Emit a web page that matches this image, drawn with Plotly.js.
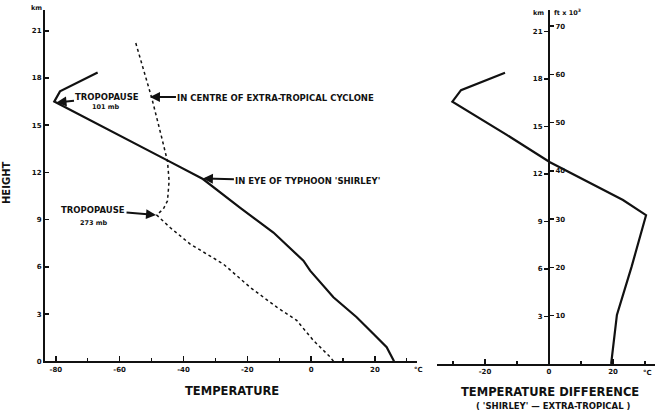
<!DOCTYPE html>
<html>
<head>
<meta charset="utf-8">
<script src="https://cdn.plot.ly/plotly-3.0.1.min.js"></script>
<style>html,body{margin:0;padding:0;background:#fff;}#chart{width:655px;height:414px;}</style>
</head>
<body>
<div id="chart"></div>
<script>
// ---- data ----
// Temperature (deg C) vs height (km), in the eye of Typhoon 'Shirley'
const shirleyTemp   = [26.0, 23.7, 19.5, 14.3, 7.0, -0.3, -2.4, -11.8, -22.3, -33.9, -45.2, -54.6, -80.5, -78.7, -66.9];
const shirleyHeight = [0.0, 0.9, 1.75, 2.8, 4.07, 5.76, 6.39, 8.18, 9.77, 11.58, 12.78, 13.78, 16.5, 17.15, 18.35];
// In centre of extra-tropical cyclone
const extraTemp   = [7.0, 6.0, 0.7, -4.5, -10.75, -19.1, -27.5, -37.9, -44.2, -48.4, -46.3, -45.0, -44.5, -45.0, -46.8, -49.9, -55.2];
const extraHeight = [0.0, 0.27, 1.33, 2.6, 3.44, 4.7, 6.18, 7.45, 8.5, 9.3, 9.68, 10.2, 11.46, 12.7, 14.2, 16.7, 20.4];
// Temperature difference ('Shirley' - extra-tropical)
const diffTemp   = [19.4, 21.2, 25.8, 30.3, 23.1, 0.3, -13.2, -30.2, -27.5, -13.75];
const diffHeight = [0.0, 3.1, 6.15, 9.4, 10.36, 12.74, 14.47, 16.57, 17.3, 18.4];

// tick labels
const tempTickVals  = [-80, -60, -40, -20, 0, 20];
const tempTickText  = ['-80', '-60', '-40', '-20', '0', '20'];
const diffTickVals  = [-20, 0, 20];
const diffTickText  = ['-20', '0', '20'];
const kmTickVals    = [0, 3, 6, 9, 12, 15, 18, 21];
const kmTickText    = ['0', '3', '6', '9', '12', '15', '18', '21'];
const kmTickValsR   = [3, 6, 9, 12, 15, 18, 21];
const kmTickTextR   = ['3', '6', '9', '12', '15', '18', '21'];
const ftTickVals    = [10, 20, 30, 40, 50, 60, 70];
const ftTickText    = ['10', '20', '30', '40', '50', '60', '70'];

// ---- layout helpers ----
const W = 655, H = 414;
const px = x => x / W;
const py = y => 1 - y / H;
const FONT = 'DejaVu Sans, Liberation Sans, sans-serif';
const ink = '#111';

const traces = [
  {x: shirleyTemp, y: shirleyHeight, xaxis: 'x', yaxis: 'y', mode: 'lines',
   line: {color: ink, width: 2.2}, hoverinfo: 'skip'},
  {x: extraTemp, y: extraHeight, xaxis: 'x', yaxis: 'y', mode: 'lines',
   line: {color: ink, width: 1.5, dash: '3px,3px'}, hoverinfo: 'skip'},
  {x: diffTemp, y: diffHeight, xaxis: 'x2', yaxis: 'y2', mode: 'lines',
   line: {color: ink, width: 2.2}, hoverinfo: 'skip'},
  {x: [0], y: [0], xaxis: 'x2', yaxis: 'y3', mode: 'markers',
   marker: {opacity: 0}, hoverinfo: 'skip'}
];

const tickFont = {family: FONT, size: 7, color: ink, weight: 'bold'};
const axBase = {showgrid: false, zeroline: false, showline: true, linecolor: ink, linewidth: 2,
  tickcolor: ink, tickwidth: 1.5, fixedrange: true, tickfont: tickFont, tickmode: 'array'};

const layout = {
  width: W, height: H, margin: {l: 0, r: 0, t: 0, b: 0},
  paper_bgcolor: '#fff', plot_bgcolor: 'rgba(0,0,0,0)', showlegend: false,
  xaxis: Object.assign({}, axBase, {domain: [px(45), px(417)], range: [-83.4, 33.2], anchor: 'y',
    tickvals: tempTickVals, ticktext: tempTickText, ticks: 'inside', ticklen: 5,
    minor: {dtick: 10, tick0: 0, ticks: 'inside', ticklen: 3, tickcolor: ink, tickwidth: 1.2}}),
  yaxis: Object.assign({}, axBase, {domain: [py(361.3), py(10)], range: [0, 22.32], anchor: 'x',
    tickvals: kmTickVals, ticktext: kmTickText, ticks: 'inside', ticklen: 4}),
  xaxis2: Object.assign({}, axBase, {domain: [px(437), 1], range: [-35, 33.1], anchor: 'y2',
    tickvals: diffTickVals, ticktext: diffTickText, ticks: 'inside', ticklen: 5,
    minor: {dtick: 10, tick0: 0, ticks: 'inside', ticklen: 3, tickcolor: ink, tickwidth: 1.2}}),
  yaxis2: Object.assign({}, axBase, {domain: [py(364), py(10)], range: [0, 22.36], anchor: 'free',
    position: px(549), side: 'left', tickvals: kmTickValsR, ticktext: kmTickTextR,
    ticks: 'outside', ticklen: 4}),
  yaxis3: Object.assign({}, axBase, {domain: [py(364), py(10)], range: [0, 22.36 / 0.3048], anchor: 'free',
    overlaying: 'y2', position: px(549), side: 'right', tickvals: ftTickVals, ticktext: ftTickText,
    ticks: 'outside', ticklen: 4, showline: false}),
  annotations: []
};

const A = layout.annotations;
function txt(text, x, y, size, anchor, extra) {
  A.push(Object.assign({text: text, xref: 'paper', yref: 'paper', x: px(x), y: py(y),
    xanchor: anchor || 'center', yanchor: 'middle', showarrow: false,
    font: {family: FONT, size: size, color: ink, weight: 'bold'}}, extra || {}));
}
// label with an arrow whose head sits on a curve point (data coords); ax/ay = text centre offset in px
function labelArrow(text, size, xd, yd, ax, ay) {
  A.push({text: text, x: xd, y: yd, xref: 'x', yref: 'y', ax: ax, ay: ay,
    showarrow: true, arrowhead: 2, arrowsize: 1, arrowwidth: 2, arrowcolor: ink, standoff: 0,
    font: {family: FONT, size: size, color: ink, weight: 'bold'}});
}

// labels with arrows pointing at the curves
labelArrow('TROPOPAUSE', 8.5, -79.8, 16.45, 51, -5);
labelArrow('IN CENTRE OF EXTRA-TROPICAL CYCLONE', 8.5, -50.5, 16.8, 126, 1);
labelArrow("IN EYE OF TYPHOON 'SHIRLEY'", 8.5, -33.9, 11.62, 105, 3);
labelArrow('TROPOPAUSE', 8.5, -48.6, 9.3, -63, -5);

// other texts
txt('101 mb', 106, 107, 6.5);
txt('273 mb', 94, 223, 6.5);
txt('HEIGHT', 7, 183, 10, 'center', {textangle: -90});
txt('TEMPERATURE', 232, 391, 11.5);
txt('TEMPERATURE DIFFERENCE', 550, 392, 11.5);
txt("( 'SHIRLEY' \u2014 EXTRA-TROPICAL )", 553, 406, 8.5);
txt('km', 36, 8, 6.5);
txt('\u00b0C', 418, 370, 7);
txt('km', 546, 13, 6.5, 'right');
txt('ft x 10<sup>3</sup>', 552, 12, 6.5, 'left');
txt('\u00b0C', 654, 373, 7, 'right');

Plotly.newPlot('chart', traces, layout, {staticPlot: true, displayModeBar: false});
</script>
</body>
</html>
